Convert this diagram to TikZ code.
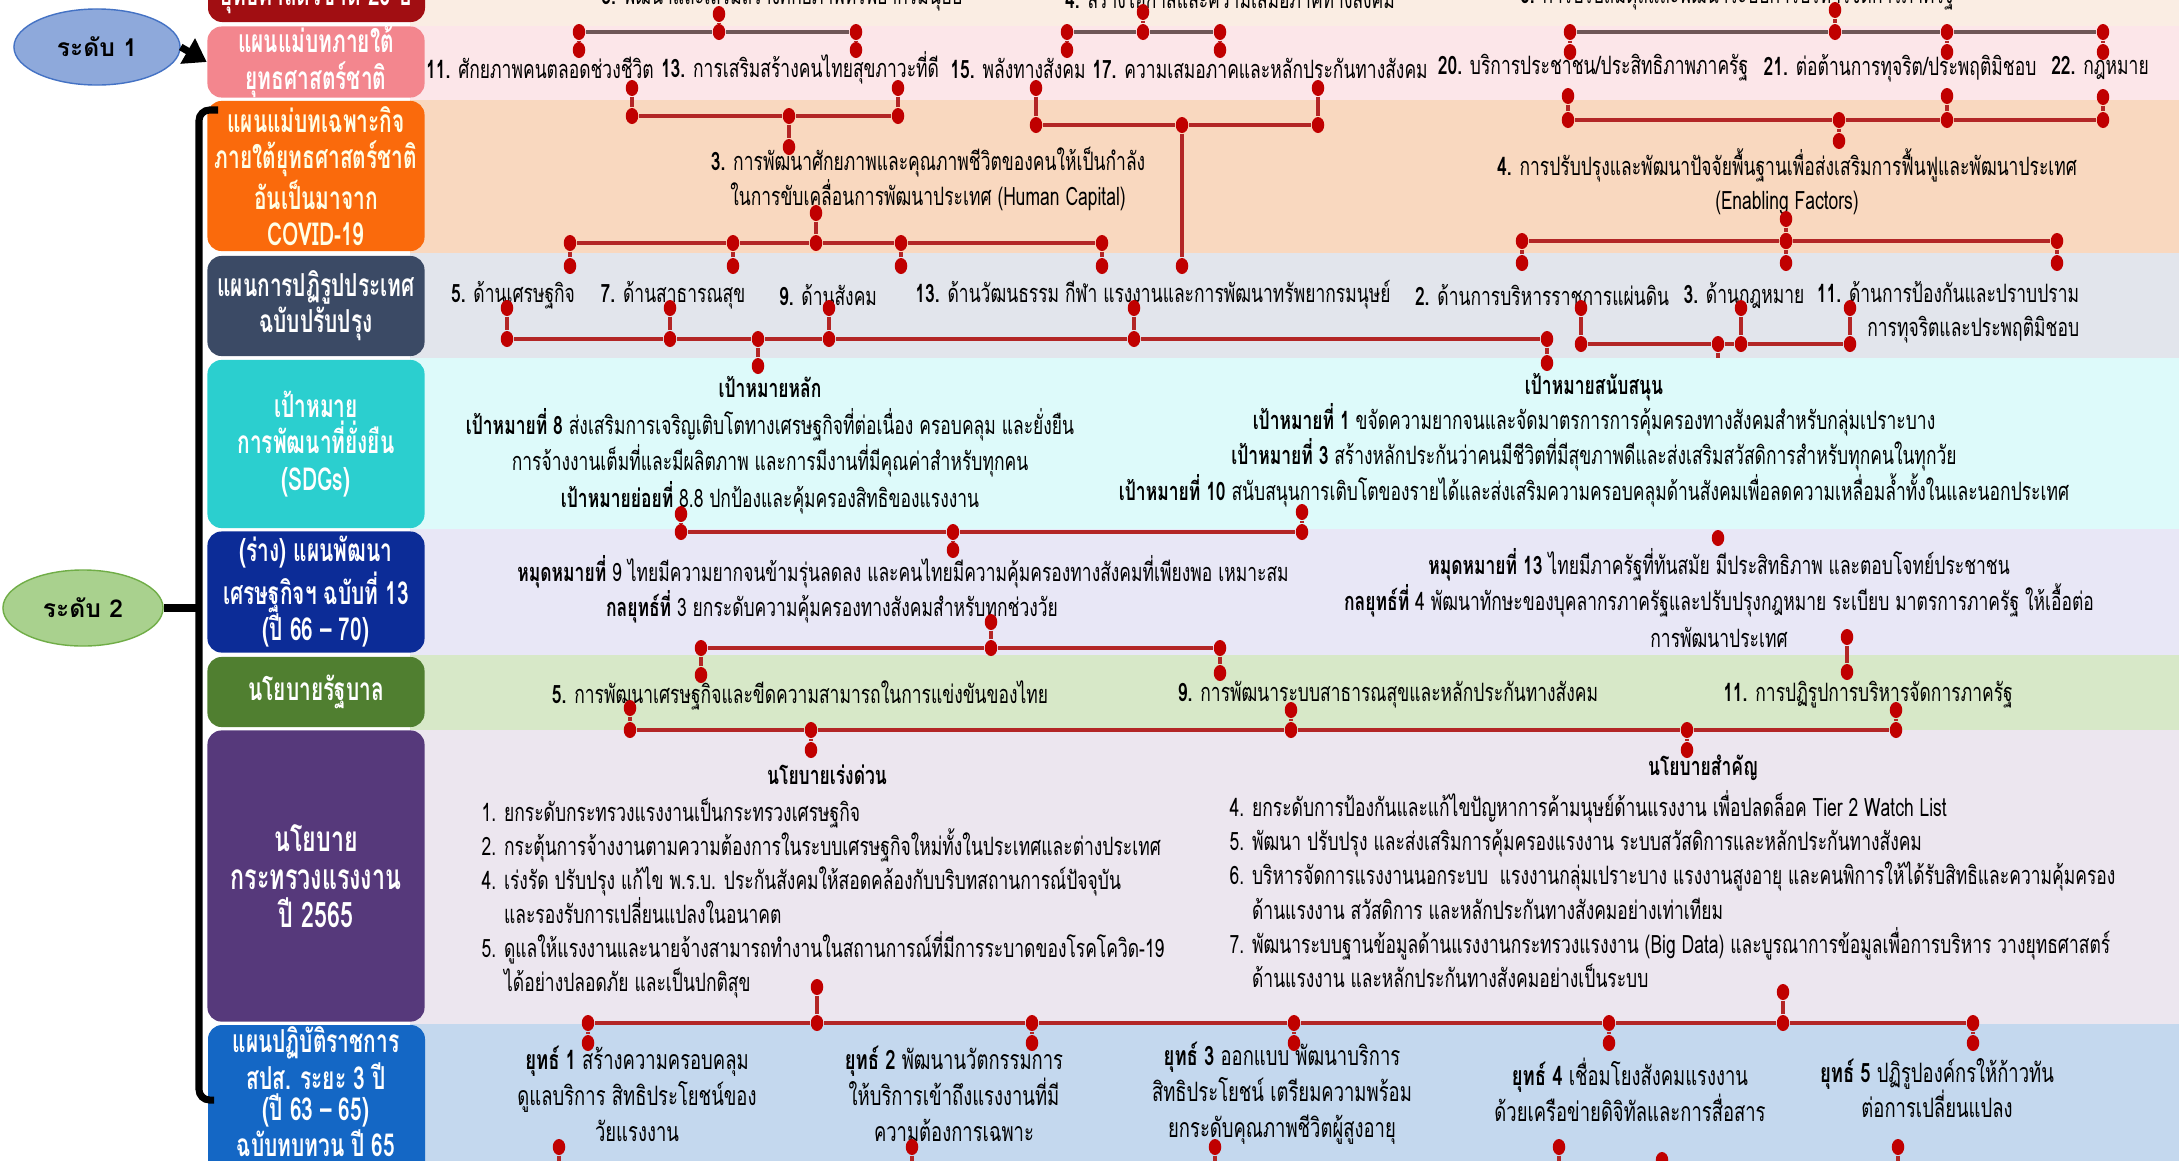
\documentclass[tikz,border=0pt]{standalone}
\usepackage{fontspec}
\setmainfont[Script=Thai,FakeStretch=0.69]{Loma}
\newfontfamily\widefont[Script=Thai]{Loma}
\newfontfamily\labfont[Script=Thai,FakeStretch=0.66]{Loma}
\usetikzlibrary{shapes.geometric,arrows.meta}

\definecolor{linkred}{HTML}{B32626}
\definecolor{dotred}{HTML}{C00000}
\definecolor{linkgrey}{HTML}{6E5656}
% row bands
\definecolor{bandzero}{HTML}{FAEDE3}
\definecolor{bandone}{HTML}{FCE6E9}
\definecolor{bandtwo}{HTML}{F9D8BF}
\definecolor{bandthree}{HTML}{E2E5EC}
\definecolor{bandfour}{HTML}{DDFAFA}
\definecolor{bandfive}{HTML}{E8E7F6}
\definecolor{bandsix}{HTML}{D7E8C8}
\definecolor{bandseven}{HTML}{ECE6EF}
\definecolor{bandeight}{HTML}{C4D8EE}
% row labels
\definecolor{labzero}{HTML}{A10E12}
\definecolor{labone}{HTML}{F3868E}
\definecolor{labtwo}{HTML}{FA6A0C}
\definecolor{labthree}{HTML}{3B4A65}
\definecolor{labfour}{HTML}{2BCFCF}
\definecolor{labfive}{HTML}{0C2C97}
\definecolor{labsix}{HTML}{507F30}
\definecolor{labseven}{HTML}{56397B}
\definecolor{labeight}{HTML}{1467C5}
\definecolor{lvlone}{HTML}{8EA9DB}
\definecolor{lvlonedraw}{HTML}{4472C4}
\definecolor{lvltwo}{HTML}{A9D18E}
\definecolor{lvltwodraw}{HTML}{70AD47}

% a short red stub with a dot at each end
\newcommand{\linkpin}[4]{%
  \node[dot] (#1t) at (#2,#3) {};
  \node[dot] (#1b) at (#2,#4) {};
  \draw[link] (#1t) -- (#1b);}

\begin{document}
\begin{tikzpicture}[x=0.01cm,y=-0.01cm,
  dot/.style={ellipse,fill=dotred,inner sep=0pt,minimum width=1.25mm,minimum height=1.6mm},
  link/.style={draw=linkred,line width=1.1pt},
  linkg/.style={draw=linkgrey,line width=1.1pt},
  lab/.style={rectangle,rounded corners=4pt,minimum width=2.17cm,inner sep=0pt,text=white,align=center,font=\labfont\bfseries\fontsize{9}{10.3}\selectfont},
  txt/.style={align=center,inner sep=1pt,font=\fontsize{7.2}{9.7}\selectfont},
  lst/.style={align=left,inner sep=0pt,anchor=north west,font=\fontsize{7.2}{9.7}\selectfont}]
\useasboundingbox (0,0) rectangle (2179,1160);
\clip (0,0) rectangle (2179,1160);
\fill[white] (0,0) rectangle (2179,1160);

% row bands
\fill[bandzero] (410,-10) rectangle (2179,26);
\fill[bandone] (410,26) rectangle (2179,100);
\fill[bandtwo] (410,100) rectangle (2179,253);
\fill[bandthree] (410,253) rectangle (2179,358);
\fill[bandfive] (410,529) rectangle (2179,655);
\fill[bandsix] (410,655) rectangle (2179,730);
\fill[bandseven] (410,730) rectangle (2179,1024);
\fill[bandeight] (410,1024) rectangle (2179,1170);
% this one runs behind the SDG band
\linkpin{jb}{1718}{344}{538}
\fill[bandfour] (410,358) rectangle (2179,529);

% row labels
\fill[labzero,rounded corners=4pt] (208,-70) rectangle (425,22);
\node[lab] (lzero) at (316,-4) {ยุทธศาสตร์ชาติ 20 ปี};
\node[lab,fill=labone,minimum height=0.71cm] (lone) at (316,62) {แผนแม่บทภายใต้\\ยุทธศาสตร์ชาติ};
\node[lab,fill=labtwo,minimum height=1.5cm,text=yellow!10] (ltwo) at (316,176) {แผนแม่บทเฉพาะกิจ\\ภายใต้ยุทธศาสตร์ชาติ\\อันเป็นมาจาก\\COVID-19};
\node[lab,fill=labthree,minimum height=1cm] (lthree) at (316,306) {แผนการปฏิรูปประเทศ\\ฉบับปรับปรุง};
\node[lab,fill=labfour,minimum height=1.68cm] (lfour) at (316,444) {เป้าหมาย\\การพัฒนาที่ยั่งยืน\\(SDGs)};
\node[lab,fill=labfive,minimum height=1.21cm] (lfive) at (316,592) {(ร่าง) แผนพัฒนา\\เศรษฐกิจฯ ฉบับที่ 13\\(ปี 66 – 70)};
\node[lab,fill=labsix,minimum height=0.7cm] (lsix) at (316,692) {นโยบายรัฐบาล};
\node[lab,fill=labseven,minimum height=2.91cm,font=\labfont\bfseries\fontsize{10}{10.9}\selectfont] (lseven) at (316,876) {นโยบาย\\กระทรวงแรงงาน\\ปี 2565};
\fill[labeight,rounded corners=4pt] (208,1025) rectangle (425,1200);
\node[lab,font=\labfont\bfseries\fontsize{9}{8.6}\selectfont] (leight) at (316,1092) {แผนปฏิบัติราชการ\\สปส. ระยะ 3 ปี\\(ปี 63 – 65)\\ฉบับทบทวน ปี 65};

% levels
\node[ellipse,draw=lvlonedraw,fill=lvlone,minimum width=1.66cm,minimum height=0.76cm,font=\widefont\bfseries\fontsize{7}{9}\selectfont] (lvla) at (97,47) {ระดับ 1};
\node[ellipse,draw=lvltwodraw,fill=lvltwo,minimum width=1.6cm,minimum height=0.76cm,font=\widefont\bfseries\fontsize{7}{9}\selectfont] (lvlb) at (83,608) {ระดับ 2};
\draw[line width=2pt,-{Triangle[length=2.2mm,width=2.8mm]}] (lvla.east) -- (lone.west);
\coordinate (brtop) at (218,110);
\coordinate (brmid) at (199,608);
\coordinate (brbot) at (214,1100);
\draw[line width=2pt,rounded corners=3pt] (brtop) -- (199,110) -- (199,1100) -- (brbot);
\draw[line width=2pt] (lvlb.east) -- (brmid);

% national strategy (cut at the top)
\node[txt] (ns3) at (782,-3) {\textbf{3.} พัฒนาและเสริมสร้างศักยภาพทรัพยากรมนุษย์};
\node[txt] (ns4) at (1230,-3) {\textbf{4.} สร้างโอกาสและความเสมอภาคทางสังคม};
\node[txt] (ns6) at (1737,-3) {\textbf{6.} การปรับสมดุลและพัฒนาระบบการบริหารจัดการภาครัฐ};

% master plans
\node[txt] (mp11) at (540,68) {\textbf{11.} ศักยภาพคนตลอดช่วงชีวิต};
\node[txt] (mp13) at (800,68) {\textbf{13.} การเสริมสร้างคนไทยสุขภาวะที่ดี};
\node[txt] (mp15) at (1018,68) {\textbf{15.} พลังทางสังคม};
\node[txt] (mp17) at (1260,68) {\textbf{17.} ความเสมอภาคและหลักประกันทางสังคม};
\node[txt] (mp20) at (1593,68) {\textbf{20.} บริการประชาชน/ประสิทธิภาพภาครัฐ};
\node[txt] (mp21) at (1900,68) {\textbf{21.} ต่อต้านการทุจริต/ประพฤติมิชอบ};
\node[txt] (mp22) at (2100,68) {\textbf{22.} กฎหมาย};

% special master plans
\node[txt] (sp3) at (928,179) {\textbf{3.} การพัฒนาศักยภาพและคุณภาพชีวิตของคนให้เป็นกำลัง\\ในการขับเคลื่อนการพัฒนาประเทศ (Human Capital)};
\node[txt] (sp4) at (1787,182) {\textbf{4.} การปรับปรุงและพัฒนาปัจจัยพื้นฐานเพื่อส่งเสริมการฟื้นฟูและพัฒนาประเทศ\\(Enabling Factors)};

% reform plans
\node[txt] (rf5) at (513,295) {\textbf{5.} ด้านเศรษฐกิจ};
\node[txt] (rf7) at (673,295) {\textbf{7.} ด้านสาธารณสุข};
\node[txt] (rf9) at (828,295) {\textbf{9.} ด้านสังคม};
\node[txt] (rf13) at (1153,295) {\textbf{13.} ด้านวัฒนธรรม กีฬา แรงงานและการพัฒนาทรัพยากรมนุษย์};
\node[txt] (rf2) at (1542,295) {\textbf{2.} ด้านการบริหารราชการแผ่นดิน};
\node[txt] (rf3) at (1744,295) {\textbf{3.} ด้านกฎหมาย};
\node[txt,align=right] (rf11) at (1948,312) {\textbf{11.} ด้านการป้องกันและปราบปราม\\การทุจริตและประพฤติมิชอบ};

% SDGs
\node[txt,font=\fontsize{7.2}{10.4}\selectfont] (sdgmain) at (770,445) {\textbf{เป้าหมายหลัก}\\\textbf{เป้าหมายที่ 8} ส่งเสริมการเจริญเติบโตทางเศรษฐกิจที่ต่อเนื่อง ครอบคลุม และยั่งยืน\\การจ้างงานเต็มที่และมีผลิตภาพ และการมีงานที่มีคุณค่าสำหรับทุกคน\\\textbf{เป้าหมายย่อยที่} 8.8 ปกป้องและคุ้มครองสิทธิของแรงงาน};
\node[txt,font=\fontsize{7.2}{10}\selectfont] (sdgsup) at (1594,440) {\textbf{เป้าหมายสนับสนุน}\\\textbf{เป้าหมายที่ 1} ขจัดความยากจนและจัดมาตรการการคุ้มครองทางสังคมสำหรับกลุ่มเปราะบาง\\\textbf{เป้าหมายที่ 3} สร้างหลักประกันว่าคนมีชีวิตที่มีสุขภาพดีและส่งเสริมสวัสดิการสำหรับทุกคนในทุกวัย\\\textbf{เป้าหมายที่ 10} สนับสนุนการเติบโตของรายได้และส่งเสริมความครอบคลุมด้านสังคมเพื่อลดความเหลื่อมล้ำทั้งในและนอกประเทศ};

% 13th plan
\node[txt] (ms9) at (903,572) {\textbf{หมุดหมายที่} 9 ไทยมีความยากจนข้ามรุ่นลดลง และคนไทยมีความคุ้มครองทางสังคมที่เพียงพอ เหมาะสม};
\node[txt] (ms9b) at (832,607) {\textbf{กลยุทธ์ที่} 3 ยกระดับความคุ้มครองทางสังคมสำหรับทุกช่วงวัย};
\node[txt,font=\fontsize{7.2}{10.4}\selectfont] (ms13) at (1719,598) {\textbf{หมุดหมายที่ 13} ไทยมีภาครัฐที่ทันสมัย มีประสิทธิภาพ และตอบโจทย์ประชาชน\\\textbf{กลยุทธ์ที่} 4 พัฒนาทักษะของบุคลากรภาครัฐและปรับปรุงกฎหมาย ระเบียบ มาตรการภาครัฐ ให้เอื้อต่อ\\การพัฒนาประเทศ};

% government policy
\node[txt] (gp5) at (800,695) {\textbf{5.} การพัฒนาเศรษฐกิจและขีดความสามารถในการแข่งขันของไทย};
\node[txt] (gp9) at (1388,695) {\textbf{9.} การพัฒนาระบบสาธารณสุขและหลักประกันทางสังคม};
\node[txt] (gp11) at (1868,695) {\textbf{11.} การปฏิรูปการบริหารจัดการภาครัฐ};

% ministry policy
\node[txt] (urgent) at (827,775) {\textbf{นโยบายเร่งด่วน}};
\node[lst] (urgentlist) at (481,797) {1. ยกระดับกระทรวงแรงงานเป็นกระทรวงเศรษฐกิจ\\
2. กระตุ้นการจ้างงานตามความต้องการในระบบเศรษฐกิจใหม่ทั้งในประเทศและต่างประเทศ\\
4. เร่งรัด ปรับปรุง แก้ไข พ.ร.บ. ประกันสังคมให้สอดคล้องกับบริบทสถานการณ์ปัจจุบัน\\
\phantom{4. }และรองรับการเปลี่ยนแปลงในอนาคต\\
5. ดูแลให้แรงงานและนายจ้างสามารถทำงานในสถานการณ์ที่มีการระบาดของโรคโควิด-19\\
\phantom{5. }ได้อย่างปลอดภัย และเป็นปกติสุข};
\node[txt] (key) at (1703,768) {\textbf{นโยบายสำคัญ}};
\node[lst] (keylist) at (1229,790) {4. ยกระดับการป้องกันและแก้ไขปัญหาการค้ามนุษย์ด้านแรงงาน เพื่อปลดล็อค Tier 2 Watch List\\
5. พัฒนา ปรับปรุง และส่งเสริมการคุ้มครองแรงงาน ระบบสวัสดิการและหลักประกันทางสังคม\\
6. บริหารจัดการแรงงานนอกระบบ \ แรงงานกลุ่มเปราะบาง แรงงานสูงอายุ และคนพิการให้ได้รับสิทธิและความคุ้มครอง\\
\phantom{6. }ด้านแรงงาน สวัสดิการ และหลักประกันทางสังคมอย่างเท่าเทียม\\
7. พัฒนาระบบฐานข้อมูลด้านแรงงานกระทรวงแรงงาน (Big Data) และบูรณาการข้อมูลเพื่อการบริหาร วางยุทธศาสตร์\\
\phantom{7. }ด้านแรงงาน และหลักประกันทางสังคมอย่างเป็นระบบ};

% action plan strategies
\node[txt,font=\fontsize{7.6}{10.2}\selectfont] (st1) at (637,1094) {\textbf{ยุทธ์ 1} สร้างความครอบคลุม\\ดูแลบริการ สิทธิประโยชน์ของ\\วัยแรงงาน};
\node[txt,font=\fontsize{7.6}{10.2}\selectfont] (st2) at (954,1094) {\textbf{ยุทธ์ 2} พัฒนานวัตกรรมการ\\ให้บริการเข้าถึงแรงงานที่มี\\ความต้องการเฉพาะ};
\node[txt,font=\fontsize{7.6}{10.2}\selectfont] (st3) at (1282,1093) {\textbf{ยุทธ์ 3} ออกแบบ พัฒนาบริการ\\สิทธิประโยชน์ เตรียมความพร้อม\\ยกระดับคุณภาพชีวิตผู้สูงอายุ};
\node[txt,font=\fontsize{7.6}{10.2}\selectfont] (st4) at (1630,1090) {\textbf{ยุทธ์ 4} เชื่อมโยงสังคมแรงงาน\\ด้วยเครือข่ายดิจิทัลและการสื่อสาร};
\node[txt,font=\fontsize{7.6}{10.2}\selectfont] (st5) at (1937,1088) {\textbf{ยุทธ์ 5} ปฏิรูปองค์กรให้ก้าวทัน\\ต่อการเปลี่ยนแปลง};

% national strategy -> master plans
\linkpin{aa}{579}{32}{50}
\linkpin{ab}{719}{14}{32}
\linkpin{ac}{856}{32}{50}
\draw[linkg] (aat) -- (abb) -- (act);
\linkpin{ba}{1067}{32}{50}
\linkpin{bb}{1143}{12}{32}
\linkpin{bc}{1220}{32}{50}
\draw[linkg] (bat) -- (bbb) -- (bct);
\linkpin{ca}{1570}{32}{52}
\linkpin{cb}{1835}{10}{32}
\linkpin{cc}{1947}{32}{52}
\linkpin{cd}{2103}{32}{52}
\draw[linkg] (cat) -- (cbb) -- (cct) -- (cdt);

% master plans -> special plans
\linkpin{da}{632}{88}{116}
\linkpin{db}{789}{116}{147}
\linkpin{dc}{898}{88}{116}
\draw[link] (dab) -- (dbt) -- (dcb);
\linkpin{ea}{1036}{88}{125}
\linkpin{eb}{1182}{125}{266}
\linkpin{ec}{1318}{88}{125}
\draw[link] (eab) -- (ebt) -- (ecb);
\linkpin{fa}{1568}{96}{120}
\linkpin{fb}{1839}{120}{141}
\linkpin{fc}{1947}{96}{120}
\linkpin{fd}{2103}{97}{120}
\draw[link] (fab) -- (fbt) -- (fcb) -- (fdb);

% special plans -> reform
\linkpin{ga}{570}{243}{266}
\linkpin{gb}{733}{243}{266}
\linkpin{gc}{816}{213}{243}
\linkpin{gd}{901}{243}{266}
\linkpin{ge}{1102}{243}{266}
\draw[link] (gat) -- (gbt) -- (gcb) -- (gdt) -- (get);
\linkpin{ha}{1522}{241}{263}
\linkpin{hb}{1786}{219}{241}
\linkpin{hc}{1786}{241}{263}
\linkpin{hd}{2057}{241}{263}
\draw[link] (hat) -- (hbb) -- (hdt);

% reform -> SDGs
\linkpin{ia}{507}{308}{339}
\linkpin{ib}{670}{308}{339}
\linkpin{ic}{758}{339}{366}
\linkpin{id}{829}{308}{339}
\linkpin{ie}{1134}{308}{339}
\linkpin{ig}{1547}{339}{363}
\draw[link] (iab) -- (ibb) -- (ict) -- (idb) -- (ieb) -- (igt);
\linkpin{ja}{1581}{308}{344}
\linkpin{jc}{1741}{308}{344}
\linkpin{jd}{1850}{308}{344}
\draw[link] (jab) -- (jbt) -- (jcb) -- (jdb);

% SDGs -> 13th plan
\linkpin{ka}{681}{514}{532}
\linkpin{kb}{953}{532}{550}
\linkpin{kc}{1302}{512}{532}
\draw[link] (kab) -- (kbt) -- (kcb);

% 13th plan -> government policy
\linkpin{la}{701}{648}{675}
\linkpin{lb}{991}{622}{648}
\linkpin{lc}{1220}{648}{673}
\draw[link] (lat) -- (lbb) -- (lct);
\linkpin{ma}{1847}{637}{672}

% government policy -> ministry policy
\linkpin{na}{630}{708}{730}
\linkpin{nb}{811}{730}{750}
\linkpin{nc}{1291}{710}{730}
\linkpin{nd}{1687}{730}{750}
\linkpin{ne}{1896}{710}{730}
\draw[link] (nab) -- (nbt) -- (ncb) -- (ndt) -- (neb);

% ministry policy -> action plan
\linkpin{oa}{588}{1023}{1043}
\linkpin{ob}{817}{987}{1023}
\linkpin{oc}{1032}{1023}{1043}
\linkpin{od}{1294}{1023}{1043}
\linkpin{oe}{1609}{1023}{1043}
\linkpin{of}{1783}{992}{1023}
\linkpin{og}{1973}{1023}{1043}
\draw[link] (oat) -- (obb) -- (oct) -- (odt) -- (oet) -- (ofb) -- (ogt);

% action plan -> below the picture
\foreach \n/\x in {pa/559,pb/912,pc/1215,pd/1559,pe/1898}
  {\linkpin{\n}{\x}{1147}{1190}}
\linkpin{pf}{1662}{1160}{1195}
\end{tikzpicture}
\end{document}
